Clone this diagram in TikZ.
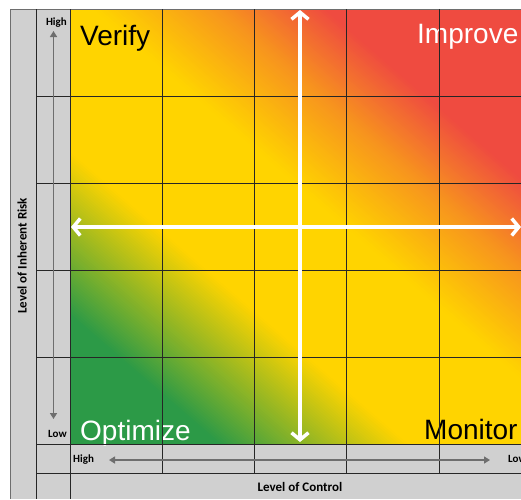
\documentclass[tikz,border=0pt]{standalone}
\usepackage{fontspec}
\setmainfont{Liberation Sans}
\newfontfamily\cellfont{Carlito}
\usetikzlibrary{arrows.meta}

\definecolor{riskgreen}{HTML}{2C9A47}
\definecolor{riskyellow}{HTML}{FFD400}
\definecolor{riskorange}{HTML}{F7941E}
\definecolor{riskred}{HTML}{EF4B40}
\definecolor{cellgray}{HTML}{D0D0D0}
\definecolor{rulegray}{HTML}{6E6E6E}

% colour of the diagonal band #1 away from the green corner
\newcommand{\bandcolor}[1]{%
  \pgfmathsetmacro\bandt{#1}%
  \ifdim\bandt pt<140pt \colorlet{band}{riskgreen}%
  \else\ifdim\bandt pt<320pt
    \pgfmathsetmacro\bandp{(\bandt-140)/1.8}\colorlet{band}{riskyellow!\bandp!riskgreen}%
  \else\ifdim\bandt pt<500pt \colorlet{band}{riskyellow}%
  \else\ifdim\bandt pt<620pt
    \pgfmathsetmacro\bandp{(\bandt-500)/1.2}\colorlet{band}{riskorange!\bandp!riskyellow}%
  \else\ifdim\bandt pt<720pt
    \pgfmathsetmacro\bandp{(\bandt-620)/1.0}\colorlet{band}{riskred!\bandp!riskorange}%
  \else \colorlet{band}{riskred}%
  \fi\fi\fi\fi\fi}

\tikzset{
  gridline/.style={line width=0.9pt, black!85},
  quadrant/.style={font=\fontsize{28}{28}\selectfont, inner sep=0pt},
  cell/.style={font=\cellfont\bfseries\fontsize{11}{11}\selectfont, inner sep=0pt},
  axis title/.style={font=\cellfont\bfseries\fontsize{13}{13}\selectfont, inner sep=0pt},
  level arrow/.style={line width=1.8pt, rulegray,
    {Triangle[length=6pt,width=7pt]}-{Triangle[length=6pt,width=7pt]}},
  cross arrow/.style={line width=3.5pt, white,
    {Straight Barb[length=7pt,width=17pt]}-{Straight Barb[length=7pt,width=17pt]}},
}

\begin{document}
\begin{tikzpicture}[x=1pt, y=-1pt]
    \useasboundingbox (0,0) rectangle (521,499);
    \clip (0,0) rectangle (521,499);
    \fill[white] (0,0) rectangle (521,499);
    \fill[cellgray] (10,9) rectangle (531,499);

    % heat map, drawn as thin slanted bands (rise counts a bit more than run)
    \begin{scope}
    \clip (70,9) rectangle (531,444.5);
    \foreach \t in {0,3,...,930}{
        \bandcolor{\t}
        \fill[band] (-500,{-48.3-\t/1.1}) -- (1100,{1333.5-\t/1.1})
            -- (1100,{1329.5-\t/1.1}) -- (-500,{-52.3-\t/1.1}) -- cycle;
    }
    \end{scope}

    % quadrant names
    \node[quadrant, anchor=base west] (verify) at (80,45) {Verify};
    \node[quadrant, anchor=base west, white] (improve) at (417,43) {Improve};
    \node[quadrant, anchor=base west, white] (optimize) at (80,440) {Optimize};
    \node[quadrant, anchor=base west] (monitor) at (424,439) {Monitor};

    % cell borders
    \draw[rulegray, line width=0.6pt] (10,9) -- (531,9);
    \draw[rulegray, line width=0.8pt] (10,9) -- (10,499);
    \draw[gridline] (36,9) -- (36,499);
    \draw[gridline] (70,9) -- (70,499);
    \foreach \x in {162.5,254.5,346.5,439}
    \draw[gridline] (\x,9) -- (\x,473);
    \foreach \y in {96,183.5,270.5,357.5,444.5,473}
    \draw[gridline] (36,\y) -- (531,\y);

    % the cross
    \coordinate (cross-n) at (300,10);
    \coordinate (cross-s) at (300,442);
    \coordinate (cross-w) at (71,227);
    \coordinate (cross-e) at (521,227);
    \draw[cross arrow] (cross-n) -- (cross-s);
    \draw[cross arrow] (cross-w) -- (cross-e);

    % level of inherent risk
    \node[axis title, rotate=90] (risk) at (22,256) {Level of Inherent Risk};
    \node[cell, anchor=base east] (risk-high) at (67,25) {High};
    \node[cell, anchor=base east] (risk-low) at (67,437) {Low};
    \coordinate (risk-top) at (53.5,31);
    \coordinate (risk-bottom) at (53.5,419);
    \draw[level arrow] (risk-top) -- (risk-bottom);

    % level of control
    \node[axis title, anchor=base] (control) at (300,491) {Level of Control};
    \node[cell, anchor=base west] (control-high) at (73,462) {High};
    \node[cell, anchor=base west] (control-low) at (508,462) {Low};
    \coordinate (control-left) at (109,460);
    \coordinate (control-right) at (490,460);
    \draw[level arrow] (control-left) -- (control-right);
\end{tikzpicture}
\end{document}
